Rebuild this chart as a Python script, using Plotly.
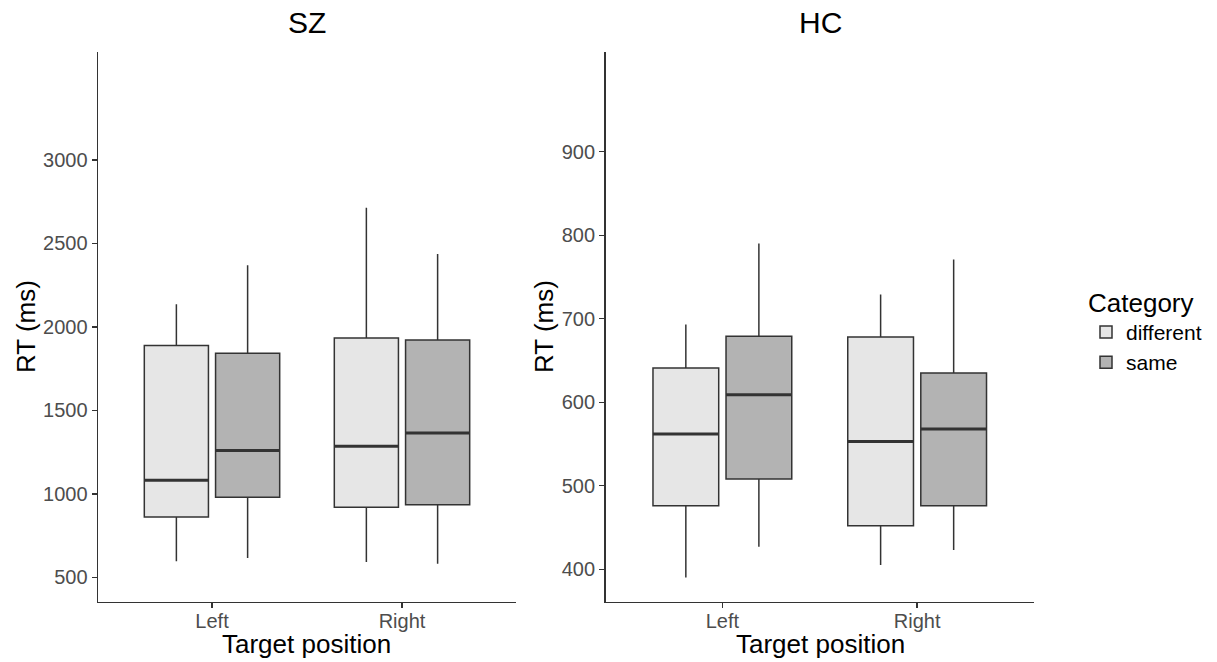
import plotly.graph_objects as go

# ---- data ----
positions = ["Left", "Right"]
categories = ["different", "same"]

# SZ panel
sz_lower = {"different": [596, 591], "same": [616, 581]}
sz_q1 = {"different": [861, 919], "same": [980, 934]}
sz_median = {"different": [1082, 1285], "same": [1260, 1364]}
sz_q3 = {"different": [1889, 1934], "same": [1843, 1922]}
sz_upper = {"different": [2136, 2714], "same": [2369, 2437]}

# HC panel
hc_lower = {"different": [390, 405], "same": [427, 423]}
hc_q1 = {"different": [476, 452], "same": [508, 476]}
hc_median = {"different": [562, 553], "same": [609, 568]}
hc_q3 = {"different": [641, 678], "same": [679, 635]}
hc_upper = {"different": [693, 729], "same": [790, 771]}

sz_ticks = [500, 1000, 1500, 2000, 2500, 3000]
hc_ticks = [400, 500, 600, 700, 800, 900]

# ---- style ----
W, H = 1217, 662
FONT = "Liberation Sans"
fills = {"different": "#e6e6e6", "same": "#b3b3b3"}
LINE = "#333333"
BOX_W = 0.3375
OFFS = {"different": -0.1875, "same": 0.1875}


def px(x):
    return x / W


def py(y):
    return 1 - y / H


fig = go.Figure()

panels = [
    ("x", "y", sz_lower, sz_q1, sz_median, sz_q3, sz_upper, True),
    ("x2", "y2", hc_lower, hc_q1, hc_median, hc_q3, hc_upper, False),
]

for xa, ya, lo, q1, med, q3, up, show in panels:
    for cat in categories:
        xs = [i + OFFS[cat] for i in range(len(positions))]
        fig.add_trace(go.Box(
            x=xs, q1=q1[cat], median=med[cat], q3=q3[cat],
            lowerfence=lo[cat], upperfence=up[cat],
            width=BOX_W, whiskerwidth=0, boxpoints=False,
            fillcolor=fills[cat], line=dict(color=LINE, width=1.5),
            name=cat, legendgroup=cat, showlegend=show,
            xaxis=xa, yaxis=ya, hoverinfo="skip",
        ))
    # thicker median lines (ggplot style)
    for cat in categories:
        mx, my = [], []
        for i in range(len(positions)):
            c = i + OFFS[cat]
            mx += [c - BOX_W / 2, c + BOX_W / 2, None]
            my += [med[cat][i], med[cat][i], None]
        fig.add_trace(go.Scatter(
            x=mx, y=my, mode="lines", line=dict(color=LINE, width=3),
            showlegend=False, hoverinfo="skip", xaxis=xa, yaxis=ya,
        ))

axis_common = dict(
    showline=True, linecolor=LINE, linewidth=1.4, ticks="outside",
    ticklen=5, tickwidth=1.4, tickcolor=LINE, showgrid=False, zeroline=False,
    tickfont=dict(family=FONT, size=20, color="#4d4d4d"),
)

ydom = [py(602), py(51.7)]

fig.update_layout(
    width=W, height=H,
    margin=dict(l=0, r=0, t=0, b=0),
    paper_bgcolor="white", plot_bgcolor="white",
    font=dict(family=FONT, color="black"),
    xaxis=dict(axis_common, domain=[px(98), px(516)], range=[-0.6, 1.6],
               tickvals=[0, 1], ticktext=positions, anchor="y",
               ticklabelstandoff=-4),
    yaxis=dict(axis_common, domain=ydom, range=[352, 3649],
               tickvals=sz_ticks, anchor="x"),
    xaxis2=dict(axis_common, domain=[px(605.5), px(1034)], range=[-0.6, 1.6],
                tickvals=[0, 1], ticktext=positions, anchor="y2",
                ticklabelstandoff=-4),
    yaxis2=dict(axis_common, domain=ydom, range=[360.8, 1019.8],
                tickvals=hc_ticks, anchor="x2"),
    showlegend=True,
    legend=dict(
        x=px(1086), y=py(278), xanchor="left", yanchor="top",
        title=dict(text="Category", font=dict(family=FONT, size=26, color="black")),
        font=dict(family=FONT, size=21, color="black"),
        bgcolor="rgba(0,0,0,0)", tracegroupgap=0,
    ),
)

annos = [
    dict(text="SZ", x=px(306.7), y=py(22), size=30, angle=0),
    dict(text="HC", x=px(820), y=py(22), size=30, angle=0),
    dict(text="Target position", x=px(306), y=py(644), size=26, angle=0),
    dict(text="Target position", x=px(820), y=py(644), size=26, angle=0),
    dict(text="RT (ms)", x=px(26), y=py(327), size=26, angle=-90),
    dict(text="RT (ms)", x=px(544), y=py(327), size=26, angle=-90),
]
for a in annos:
    fig.add_annotation(
        text=a["text"], x=a["x"], y=a["y"], xref="paper", yref="paper",
        xanchor="center", yanchor="middle", showarrow=False, textangle=a["angle"],
        font=dict(family=FONT, size=a["size"], color="black"),
    )

fig.write_html(
    "out.html",
    config={"displayModeBar": False, "staticPlot": True},
    post_script="document.body.style.margin='0px';"
                "document.documentElement.style.overflow='hidden';",
)
